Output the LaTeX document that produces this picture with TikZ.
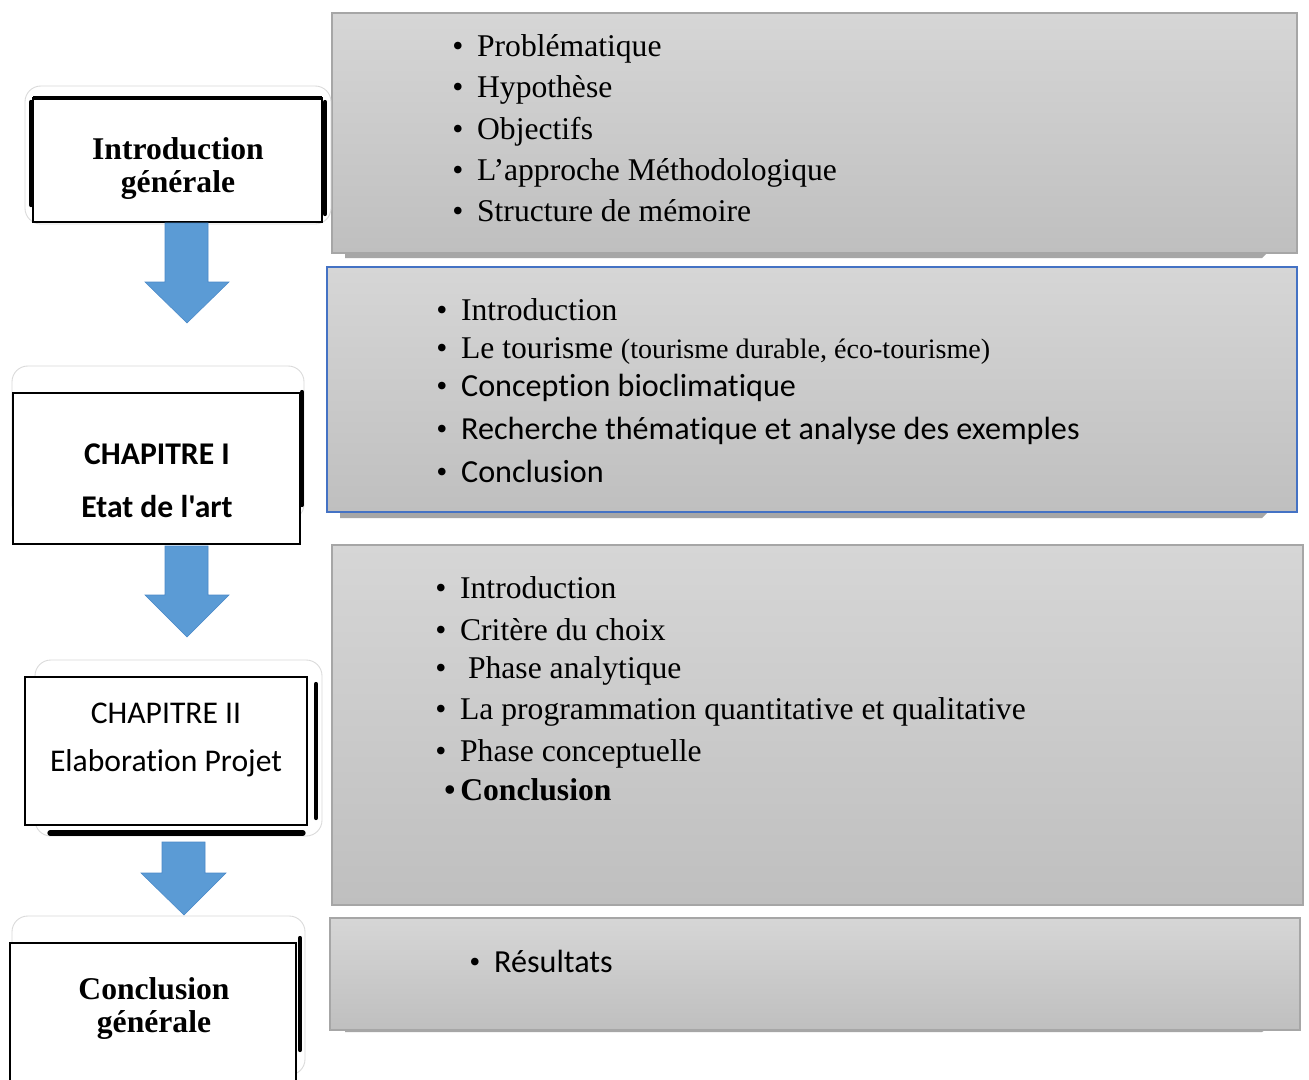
\documentclass[tikz,border=0pt]{standalone}
\usepackage{fontspec}
\setmainfont{Liberation Serif}
\newfontfamily\calfont[Ligatures=NoCommon]{Carlito}
\newfontfamily\bulfont{Liberation Serif}
\usetikzlibrary{fit}
\definecolor{boxborder}{HTML}{A6A6A6}
\definecolor{graytop}{HTML}{D6D6D6}
\definecolor{graybot}{HTML}{BFBFBF}
\definecolor{bluebord}{HTML}{4472C4}
\definecolor{arrowblue}{HTML}{5B9BD5}
\definecolor{arrowdark}{HTML}{4A89C8}
\definecolor{faint}{HTML}{DADADA}
\tikzset{
  graybox/.style={draw=boxborder, line width=1.2pt, top color=graytop, bottom color=graybot, inner sep=0pt},
  whitebox/.style={draw=black, line width=1.1pt, fill=white, inner sep=0pt},
  faintbox/.style={draw=faint, line width=0.5pt, rounded corners=9pt},
  thickbar/.style={line width=2.4pt, black, line cap=round},
  item/.style={anchor=base west, inner sep=0pt, font=\fontsize{18}{20}\selectfont},
  citem/.style={item, font=\calfont\fontsize{18.3}{20}\selectfont},
  title/.style={anchor=base, inner sep=0pt, font=\bfseries\fontsize{18}{20}\selectfont},
  ctitle/.style={anchor=base, inner sep=0pt, font=\calfont\fontsize{18}{20}\selectfont},
  blockarrow/.style={fill=arrowblue, draw=arrowdark, line width=0.3pt}
}
\newcommand{\bul}{\makebox[14.1pt][l]{\bulfont\fontsize{18}{20}\selectfont\textbullet}}
\begin{document}
\begin{tikzpicture}[x=0.02cm, y=-0.02cm]
\useasboundingbox (0,0) rectangle (1309,1079);
\fill[white] (0,0) rectangle (1309,1079);

% ---------- gray boxes ----------
\fill[boxborder] (345,250) -- (1270,250) -- (1262,258) -- (345,258) -- cycle;
\node[graybox, fit={(332,13) (1297,253)}] (b1) {};
\fill[boxborder] (340,510) -- (1270,510) -- (1262,518) -- (340,518) -- cycle;
\node[graybox, draw=bluebord, fit={(327,267) (1297,512)}] (b2) {};
\node[graybox, fit={(332,545) (1303,905)}] (b3) {};
\fill[boxborder] (345,1027) -- (1270,1027) -- (1262,1032) -- (345,1032) -- cycle;
\node[graybox, fit={(330,918) (1300,1030)}] (b4) {};

% ---------- list 1 ----------
\node[item] (l11) at (452,56) {\bul Problématique};
\node[item] (l12) at (452,97) {\bul Hypothèse};
\node[item] (l13) at (452,139) {\bul Objectifs};
\node[item] (l14) at (452,180) {\bul L’approche Méthodologique};
\node[item] (l15) at (452,221) {\bul Structure de mémoire};

% ---------- list 2 ----------
\node[item] (l21) at (436,320) {\bul Introduction};
\node[item] (l22) at (436,358) {\bul Le tourisme {\fontsize{16}{18}\selectfont(tourisme durable, éco-tourisme)}};
\node[citem] (l23) at (436,396) {\bul Concept\kern0pt ion bioclimat\kern0pt ique};
\node[citem] (l24) at (436,439) {\bul Recherche thémat\kern0pt ique et analyse des exemples};
\node[citem] (l25) at (436,482) {\bul Conclusion};

% ---------- list 3 ----------
\node[item] (l31) at (435,598) {\bul Introduction};
\node[item] (l32) at (435,640) {\bul Critère du choix};
\node[item] (l33) at (435,678) {\bul \hspace{4.5pt}Phase analytique};
\node[item] (l34) at (435,719) {\bul La programmation quantitative et qualitative};
\node[item] (l35) at (435,761) {\bul Phase conceptuelle};
\node[item, font=\bfseries\fontsize{18}{20}\selectfont] (l36) at (444,800) {\makebox[9.1pt][l]{\textbullet}Conclusion};

% ---------- list 4 ----------
\node[citem] (l41) at (469,972) {\bul Résultats};

% ---------- left boxes ----------
% Introduction generale
\draw[faintbox] (25,86) rectangle (331,224);
\node[whitebox, fit={(33,98) (322,222)}] (intro) {};
\draw[line width=2.2pt] (33,98) -- (322,98);
\draw[thickbar] (31,102) -- (31,205);
\draw[thickbar] (325,102) -- (325,214);
\node[title] (t1) at (178,159) {Introduction};
\node[title] (t2) at (178,192) {générale};

% Chapitre I
\draw[faintbox] (12,366) rectangle (304,520);
\node[whitebox, fit={(13,393) (300,544)}] (ch1) {};
\draw[thickbar] (302,392) -- (302,505);
\node[ctitle, font=\calfont\bfseries\fontsize{18}{20}\selectfont] (t3) at (157,464) {CHAPITRE I};
\node[ctitle, font=\calfont\bfseries\fontsize{18}{20}\selectfont] (t4) at (157,517) {Etat de l'art};

% Chapitre II
\draw[faintbox] (35,660) rectangle (322,836);
\node[whitebox, fit={(25,677) (307,825)}] (ch2) {};
\draw[thickbar] (316,684) -- (316,818);
\draw[line width=3pt, black, line cap=round] (50,833) -- (303,833);
\node[ctitle] (t5) at (166,723) {CHAPITRE II};
\node[ctitle] (t6) at (166,771) {Elaboration Projet};

% Conclusion generale
\draw[faintbox] (12,916) rectangle (305,1075);
\node[whitebox, fit={(10,943) (296,1085)}] (concl) {};
\draw[thickbar] (300,938) -- (300,1050);
\node[title] (t7) at (154,999) {Conclusion};
\node[title] (t8) at (154,1032) {générale};

% ---------- block arrows ----------
\draw[blockarrow] (165,223) -- (208,223) -- (208,282) -- (229,282) -- (187,323) -- (145,282) -- (165,282) -- cycle;
\draw[blockarrow] (165,546) -- (208,546) -- (208,595) -- (229,595) -- (187,637) -- (145,595) -- (165,595) -- cycle;
\draw[blockarrow] (162,842) -- (205,842) -- (205,873) -- (226,873) -- (184,915) -- (141,873) -- (162,873) -- cycle;
\end{tikzpicture}
\end{document}
